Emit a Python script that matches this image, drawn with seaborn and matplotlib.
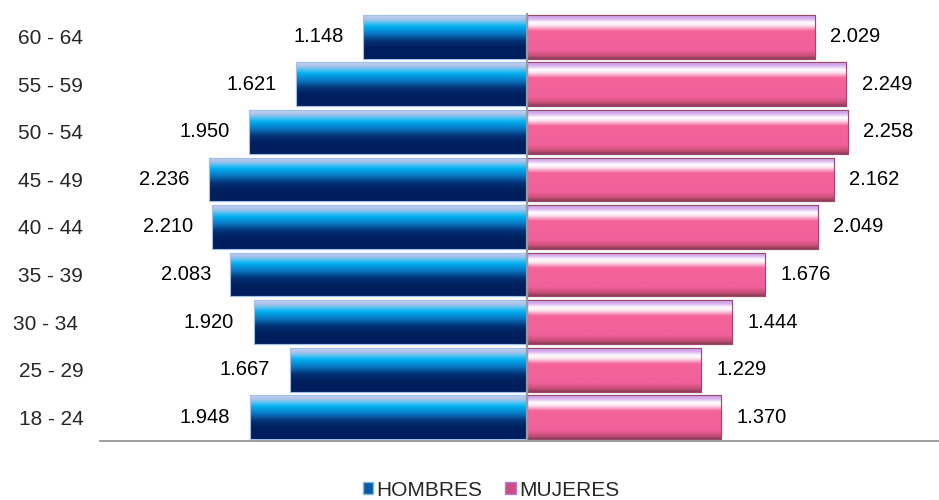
import numpy as np
import pandas as pd
import matplotlib
matplotlib.use("Agg")
import matplotlib.pyplot as plt
from matplotlib.colors import LinearSegmentedColormap
from matplotlib.patches import Patch
import seaborn as sns

grupos = ['60 - 64', '55 - 59', '50 - 54', '45 - 49', '40 - 44',
          '35 - 39', '30 - 34 ', '25 - 29', '18 - 24']
hombres = [1148, 1621, 1950, 2236, 2210, 2083, 1920, 1667, 1948]
mujeres = [2029, 2249, 2258, 2162, 2049, 1676, 1444, 1229, 1370]
series = ['HOMBRES', 'MUJERES']

sns.set_theme(style="white")
plt.rcParams['font.family'] = ['Liberation Sans', 'DejaVu Sans']

df = pd.DataFrame({
    'grupo': grupos * 2,
    'valor': [-v for v in hombres] + list(mujeres),
    'sexo': [series[0]] * len(grupos) + [series[1]] * len(grupos),
})

fig = plt.figure(figsize=(9.39, 5.0), dpi=100)
ax = fig.add_axes([100 / 939, 59 / 500, 839 / 939, 428 / 500])

sns.barplot(data=df, y='grupo', x='valor', hue='sexo', order=grupos,
            hue_order=series, dodge=False, width=0.92, orient='h',
            palette={'HOMBRES': '#0a3d85', 'MUJERES': '#f0649a'},
            ax=ax, legend=False, saturation=1)

blue_cmap = LinearSegmentedColormap.from_list('b', [
    (0.0, '#c3d2ee'), (0.10, '#a9c1ea'), (0.16, '#5fc4f2'), (0.26, '#00b0f0'),
    (0.42, '#0a78c4'), (0.58, '#03367a'), (0.72, '#002060'), (1.0, '#001d5c')])
pink_cmap = LinearSegmentedColormap.from_list('p', [
    (0.0, '#c89be6'), (0.08, '#d8b0ee'), (0.17, '#ffffff'), (0.24, '#fbe2ee'),
    (0.36, '#f4649a'), (0.80, '#f0609a'), (0.92, '#c85078'), (1.0, '#8a3a58')])
grad = np.linspace(0, 1, 256).reshape(-1, 1)

xlim = (-3000, 2900)
ylim = (len(grupos) - 0.5, -0.5)
for p in list(ax.patches):
    x0, y0 = p.get_x(), p.get_y()
    w, h = p.get_width(), p.get_height()
    if w == 0 or np.isnan(w):
        continue
    xa, xb = min(x0, x0 + w), max(x0, x0 + w)
    cmap = blue_cmap if w < 0 else pink_cmap
    im = ax.imshow(grad, cmap=cmap, aspect='auto', origin='upper',
                   extent=(xa, xb, y0 + h, y0), zorder=p.get_zorder() + 0.1,
                   interpolation='bilinear')
    im.set_clip_path(p)
    edge = '#9ec0ea' if w < 0 else '#9a4a6a'
    p.set_edgecolor(edge)
    p.set_linewidth(0.8)
    ax.add_patch(plt.Rectangle((xa, y0), xb - xa, h, fill=False,
                               edgecolor=edge, linewidth=0.8,
                               zorder=p.get_zorder() + 0.2))

ax.set_xlim(*xlim)
ax.set_ylim(*ylim)

def fmt(v):
    return f"{v:,}".replace(',', '.')

for i, (h_, m_) in enumerate(zip(hombres, mujeres)):
    ax.annotate(fmt(h_), xy=(-h_, i), xytext=(-14, 0), textcoords='offset points',
                ha='right', va='center', fontsize=14.5, color='black')
    ax.annotate(fmt(m_), xy=(m_, i), xytext=(11, 0), textcoords='offset points',
                ha='left', va='center', fontsize=14.5, color='black')

ax.axvline(0, color='#9a9a9a', linewidth=1.6, zorder=5)
ax.set_xticks([])
ax.set_xlabel('')
ax.set_ylabel('')
ax.tick_params(axis='y', length=0, pad=12, labelsize=15)
for s in ['top', 'right', 'left']:
    ax.spines[s].set_visible(False)
ax.spines['bottom'].set_color('#8c8c8c')
ax.spines['bottom'].set_linewidth(1.2)

handles = [Patch(facecolor='#0a5aa8', edgecolor='#7fb8ec'),
           Patch(facecolor='#d04a86', edgecolor='#b080d0')]
fig.legend(handles, series, loc='lower center', bbox_to_anchor=(0.523, -0.037),
           ncol=2, frameon=False, fontsize=15, handlelength=0.5,
           handleheight=0.5, handletextpad=0.15, columnspacing=1.1)

fig.savefig('out.png', dpi=100)
